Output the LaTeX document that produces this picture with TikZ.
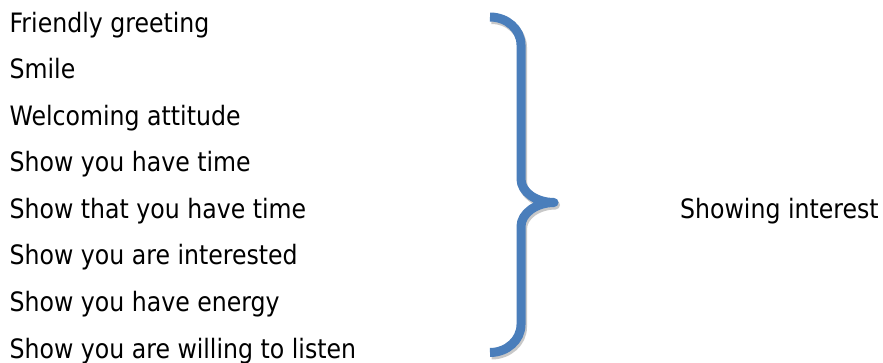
\documentclass[tikz,border=0pt]{standalone}
\usepackage{fontspec}
\setmainfont{DejaVu Sans}[FakeStretch=0.885]
\definecolor{braceblue}{RGB}{74,126,187}
\definecolor{braceshadow}{RGB}{200,200,200}
\tikzset{
  item/.style={anchor=base west, inner sep=0pt, font=\fontsize{26.7}{30}\selectfont, text=black},
  bracestroke/.style={line width=9pt, line join=round, line cap=butt},
}
\begin{document}
\begin{tikzpicture}[x=1pt,y=-1pt]
\useasboundingbox (0,0) rectangle (883,363);
\node[item] (l1) at (9.4,32.5) {Friendly greeting};
\node[item] (l2) at (9.4,79) {Smile};
\node[item] (l3) at (9.4,125.5) {Welcoming attitude};
\node[item] (l4) at (9.4,172) {Show you have time};
\node[item] (l5) at (9.4,218.5) {Show that you have time};
\node[item] (l6) at (9.4,265) {Show you are interested};
\node[item] (l7) at (9.4,311.5) {Show you have energy};
\node[item] (l8) at (9.4,358) {Show you are willing to listen};
\node[item] (res) at (680,218.5) {Showing interest};
% brace shadow
\begin{scope}[shift={(1.5,2.5)}]
\draw[bracestroke, braceshadow]
  (490,17) .. controls (507.1,17) and (521,29.5) .. (521,45)
  -- (521,179)
  .. controls (521,192.2) and (536.3,202.5) .. (554,202.5)
  .. controls (536.3,202.5) and (521,213.3) .. (521,226.5)
  -- (521,324.5)
  .. controls (521,340) and (507.1,352.5) .. (490,352.5);
\end{scope}
% brace
\coordinate (btop) at (490,17);
\coordinate (btip) at (554,202.5);
\coordinate (bbot) at (490,352.5);
\draw[bracestroke, braceblue]
  (btop) .. controls (507.1,17) and (521,29.5) .. (521,45)
  -- (521,179)
  .. controls (521,192.2) and (536.3,202.5) .. (btip)
  .. controls (536.3,202.5) and (521,213.3) .. (521,226.5)
  -- (521,324.5)
  .. controls (521,340) and (507.1,352.5) .. (bbot);
\end{tikzpicture}
\end{document}
